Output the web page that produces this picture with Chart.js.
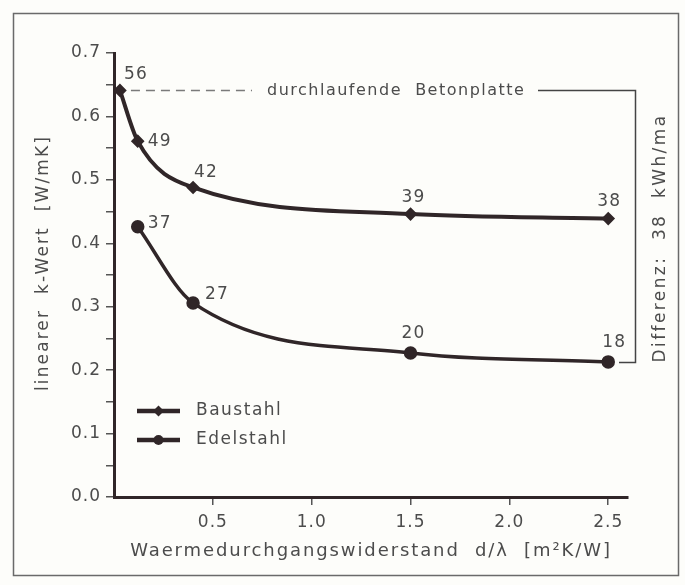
<!DOCTYPE html>
<html>
<head>
<meta charset="utf-8">
<script src="https://cdn.jsdelivr.net/npm/chart.js@4.4.1/dist/chart.umd.min.js"></script>
<style>
  html, body { margin: 0; padding: 0; background: #fff; }
  #chart { display: block; }
</style>
</head>
<body>
<canvas id="chart" width="685" height="585"></canvas>
<script>
// values
const bauX = [0.03, 0.12, 0.40, 1.50, 2.50];
const bauY = [0.641, 0.561, 0.488, 0.446, 0.439];
const bauLabels = ['56', '49', '42', '39', '38'];

const edelX = [0.12, 0.40, 1.50, 2.50];
const edelY = [0.426, 0.306, 0.227, 0.213];
const edelLabels = ['37', '27', '20', '18'];

const xTickValues = [0.5, 1.0, 1.5, 2.0, 2.5];
const yTickValues = [0, 0.05, 0.1, 0.15, 0.2, 0.25, 0.3, 0.35, 0.4, 0.45, 0.5, 0.55, 0.6, 0.65, 0.7];
const yTickLabels = ['0.0', '', '0.1', '', '0.2', '', '0.3', '', '0.4', '', '0.5', '', '0.6', '', '0.7'];

const seriesNames = ['Baustahl', 'Edelstahl'];
const xTitle = 'Waermedurchgangswiderstand  d/λ  [m²K/W]';
const yTitle = 'linearer  k-Wert  [W/mK]';
const noteText = 'durchlaufende  Betonplatte';
const diffText = 'Differenz:  38  kWh/ma';

// label placement (pixel offsets from each point)
const bauLabelOffsets = [[4, -16], [10, 0], [1, -15], [-9, -17], [-11, -17]];
const edelLabelOffsets = [[10, -3], [12, -8], [-9, -19], [-6, -19]];

const lineColor = '#302628';
const textColor = '#4c4c4c';
const font = '"DejaVu Sans", sans-serif';

function toPoints(xs, ys) {
  return xs.map((x, i) => ({ x: x, y: ys[i] }));
}

const overlay = {
  id: 'overlay',
  beforeLayout(chart) {
    chart.ctx.letterSpacing = '1px';
  },
  beforeDraw(chart) {
    const ctx = chart.ctx;
    ctx.save();
    ctx.fillStyle = '#fdfdfa';
    ctx.fillRect(0, 0, chart.width, chart.height);
    ctx.strokeStyle = '#6a6a6a';
    ctx.lineWidth = 1.5;
    ctx.strokeRect(13.5, 13.5, 665, 562);
    ctx.restore();
    ctx.letterSpacing = '1px';
  },
  afterDatasetsDraw(chart) {
    const ctx = chart.ctx;
    ctx.save();
    ctx.fillStyle = textColor;
    ctx.font = '17px ' + font;
    ctx.letterSpacing = '1.2px';
    ctx.textBaseline = 'middle';
    ctx.textAlign = 'left';

    // value labels
    chart.data.datasets.forEach((ds, di) => {
      const meta = chart.getDatasetMeta(di);
      meta.data.forEach((pt, i) => {
        const off = ds.labelOffsets[i];
        ctx.fillText(ds.valueLabels[i], pt.x + off[0], pt.y + off[1]);
      });
    });

    // annotation: dashed line, note text, bracket
    const first = chart.getDatasetMeta(0).data[0];
    const last = chart.getDatasetMeta(1).data[edelX.length - 1];
    const yTop = Math.round(first.y) + 0.5;
    const yBot = Math.round(last.y) + 0.5;
    const bracketX = 635.5;
    ctx.strokeStyle = '#7a7a7a';
    ctx.lineWidth = 1.5;
    ctx.setLineDash([9, 6]);
    ctx.beginPath();
    ctx.moveTo(first.x + 11, yTop);
    ctx.lineTo(252, yTop);
    ctx.stroke();
    ctx.setLineDash([]);
    ctx.font = '16px ' + font;
    ctx.letterSpacing = '1.5px';
    ctx.fillText(noteText, 267, yTop);
    ctx.strokeStyle = '#444';
    ctx.beginPath();
    ctx.moveTo(538, yTop);
    ctx.lineTo(bracketX, yTop);
    ctx.lineTo(bracketX, yBot);
    ctx.lineTo(619, yBot);
    ctx.stroke();

    // rotated difference text
    ctx.save();
    ctx.translate(661, 238);
    ctx.rotate(-Math.PI / 2);
    ctx.textAlign = 'center';
    ctx.font = '17px ' + font;
    ctx.letterSpacing = '2.4px';
    ctx.fillText(diffText, 0, 0);
    ctx.restore();

    // axis titles
    ctx.save();
    ctx.translate(44, 263);
    ctx.rotate(-Math.PI / 2);
    ctx.textAlign = 'center';
    ctx.font = '17px ' + font;
    ctx.letterSpacing = '2.1px';
    ctx.fillText(yTitle, 0, 0);
    ctx.restore();

    ctx.save();
    ctx.textAlign = 'center';
    ctx.font = '18px ' + font;
    ctx.letterSpacing = '1.9px';
    ctx.fillText(xTitle, 371, 551);
    ctx.restore();

    // legend
    const rows = [411, 440];
    chart.data.datasets.forEach((ds, di) => {
      const y = rows[di];
      ctx.strokeStyle = ds.borderColor;
      ctx.lineWidth = 4.5;
      ctx.beginPath();
      ctx.moveTo(137, y);
      ctx.lineTo(180, y);
      ctx.stroke();
      ctx.fillStyle = ds.pointBackgroundColor;
      ctx.beginPath();
      if (ds.pointStyle === 'circle') {
        ctx.arc(158.5, y, ds.pointRadius, 0, Math.PI * 2);
      } else {
        const r = ds.pointRadius + 1.5;
        ctx.moveTo(158.5, y - r);
        ctx.lineTo(158.5 + r, y);
        ctx.lineTo(158.5, y + r);
        ctx.lineTo(158.5 - r, y);
        ctx.closePath();
      }
      ctx.fill();
      ctx.fillStyle = textColor;
      ctx.font = '17px ' + font;
      ctx.letterSpacing = '1.5px';
      ctx.textAlign = 'left';
      ctx.fillText(ds.label, 196, y);
    });
    ctx.restore();
  }
};

new Chart(document.getElementById('chart'), {
  type: 'line',
  data: {
    datasets: [
      {
        label: seriesNames[0],
        data: toPoints(bauX, bauY),
        valueLabels: bauLabels,
        labelOffsets: bauLabelOffsets,
        borderColor: lineColor,
        borderWidth: 4,
        pointStyle: 'rectRot',
        pointRadius: 4,
        pointBackgroundColor: lineColor,
        pointBorderColor: lineColor,
        cubicInterpolationMode: 'monotone',
        fill: false,
        clip: false
      },
      {
        label: seriesNames[1],
        data: toPoints(edelX, edelY),
        valueLabels: edelLabels,
        labelOffsets: edelLabelOffsets,
        borderColor: lineColor,
        borderWidth: 3.5,
        pointStyle: 'circle',
        pointRadius: 5,
        pointBackgroundColor: lineColor,
        pointBorderColor: lineColor,
        cubicInterpolationMode: 'monotone',
        fill: false,
        clip: false
      }
    ]
  },
  options: {
    responsive: false,
    animation: false,
    devicePixelRatio: 1,
    layout: { padding: { top: 53, right: 57, left: 0, bottom: 0 } },
    plugins: {
      legend: { display: false },
      tooltip: { enabled: false }
    },
    scales: {
      x: {
        type: 'linear',
        min: 0,
        max: 2.6,
        afterBuildTicks: s => { s.ticks = xTickValues.map(v => ({ value: v })); },
        afterFit: s => { s.height = 88; },
        ticks: {
          color: textColor,
          font: { family: font, size: 17 },
          padding: 7,
          maxRotation: 0,
          callback: v => v.toFixed(1)
        },
        grid: {
          drawOnChartArea: false,
          drawTicks: true,
          tickLength: 8,
          tickColor: '#555',
          lineWidth: 1.5
        },
        border: { display: true, color: lineColor, width: 3 }
      },
      y: {
        type: 'linear',
        min: 0,
        max: 0.7,
        afterBuildTicks: s => { s.ticks = yTickValues.map(v => ({ value: v })); },
        afterFit: s => { s.width = 114; },
        ticks: {
          color: textColor,
          font: { family: font, size: 17 },
          padding: 5,
          callback: (v, i) => yTickLabels[i]
        },
        grid: {
          drawOnChartArea: false,
          drawTicks: true,
          tickLength: 8,
          tickColor: '#555',
          lineWidth: 1.5
        },
        border: { display: true, color: lineColor, width: 3 }
      }
    }
  },
  plugins: [overlay]
});
</script>
</body>
</html>
